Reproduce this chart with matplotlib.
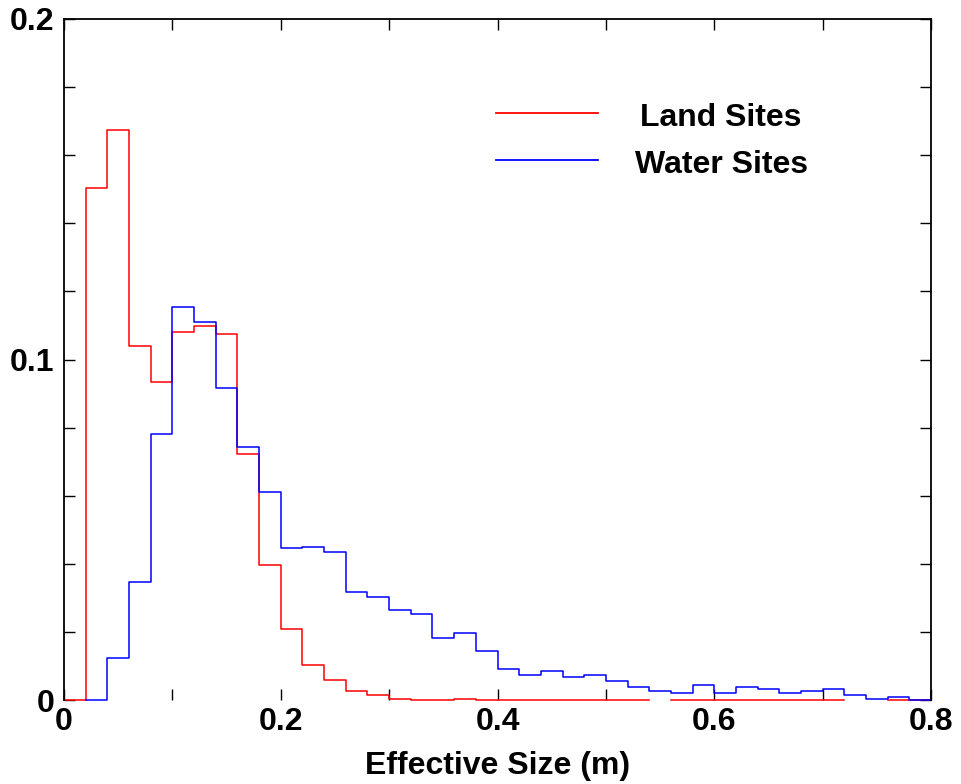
import numpy as np
import matplotlib
matplotlib.use("Agg")
from matplotlib import pyplot as plt
from matplotlib.patches import Rectangle
from matplotlib.ticker import MultipleLocator, FuncFormatter

plt.rcParams["font.family"] = ["Liberation Sans", "DejaVu Sans"]
plt.rcParams["font.weight"] = "bold"

# bin edges 0 .. 0.82 in steps of 0.02
edges = np.round(np.arange(0, 0.8201, 0.02), 2)

# Land sites (nan = bin not drawn)
land = [0.0, 0.1503, 0.1673, 0.1039, 0.0933, 0.1080, 0.1098, 0.1074,
        0.0722, 0.0398, 0.0209, 0.0104, 0.0058, 0.0027, 0.0016, 0.0004,
        0.0, 0.0, 0.0004, 0.0, 0.0, 0.0, 0.0, 0.0,
        0.0, 0.0, 0.0, np.nan, 0.0, 0.0, 0.0, 0.0,
        0.0, 0.0, 0.0, 0.0, np.nan, np.nan, 0.0, 0.0,
        np.nan]

# Water sites
water = [np.nan, 0.0, 0.0122, 0.0346, 0.0780, 0.1155, 0.1110, 0.0915,
         0.0744, 0.0610, 0.0445, 0.0450, 0.0434, 0.0316, 0.0304, 0.0263,
         0.0252, 0.0181, 0.0198, 0.0145, 0.0092, 0.0074, 0.0086, 0.0068,
         0.0074, 0.0057, 0.0039, 0.0027, 0.0021, 0.0045, 0.0021, 0.0039,
         0.0033, 0.0021, 0.0027, 0.0033, 0.0016, 0.0004, 0.0010, 0.0,
         0.0024]

labels = ["Land Sites", "Water Sites"]
colors = ["#ff0000", "#0000ff"]


def stair_xy(edges, vals):
    # step outline; a nan bin breaks the line
    vals = np.asarray(vals, dtype=float)
    xs, ys = [], []
    for i in range(len(vals)):
        xs += [edges[i], edges[i + 1]]
        ys += [vals[i], vals[i]]
        if i < len(vals) - 1 and (np.isnan(vals[i]) or np.isnan(vals[i + 1])):
            xs.append(np.nan)
            ys.append(np.nan)
    return np.array(xs), np.array(ys)


def fmt(v, p):
    return "0" if abs(v) < 1e-9 else "%g" % v


fig = plt.figure(figsize=(9.61, 7.84), dpi=100)
ax = fig.add_axes([0.0666, 0.1071, 0.9022, 0.8687])

# clip box a bit below the axes so zero-height steps show in full
clip = Rectangle((0, -0.01), 1.0, 1.01, transform=ax.transAxes,
                 facecolor="none", edgecolor="none")
ax.add_patch(clip)

for vals, c in zip([land, water], colors):
    x, y = stair_xy(edges, vals)
    ln, = ax.plot(x, y, color=c, lw=1.1)
    ln.set_clip_path(clip)

ax.set_xlim(0, 0.8)
ax.set_ylim(0, 0.2)

ax.xaxis.set_major_locator(MultipleLocator(0.2))
ax.xaxis.set_minor_locator(MultipleLocator(0.1))
ax.yaxis.set_major_locator(MultipleLocator(0.1))
ax.yaxis.set_minor_locator(MultipleLocator(0.02))
ax.xaxis.set_major_formatter(FuncFormatter(fmt))
ax.yaxis.set_major_formatter(FuncFormatter(fmt))

ax.tick_params(which="both", direction="in", top=True, right=True,
               labelsize=23, width=1, color="black", length=8)
ax.tick_params(axis="x", pad=5)
ax.tick_params(axis="y", pad=7)
ax.spines["bottom"].set_visible(False)
for s in ["left", "right", "top"]:
    ax.spines[s].set_linewidth(1.3)

ax.set_xlabel("Effective Size (m)", fontsize=23, fontweight="bold", labelpad=10)

# legend drawn by hand, text centred like the original
for i, (lab, c) in enumerate(zip(labels, colors)):
    yy = 0.862 - i * 0.069
    ax.plot([0.498, 0.616], [yy, yy], color=c, lw=1.3, transform=ax.transAxes)
    ax.text(0.758, yy - 0.008, lab, transform=ax.transAxes, ha="center",
            va="center", fontsize=23, fontweight="bold")

fig.savefig("out.png", dpi=100)
